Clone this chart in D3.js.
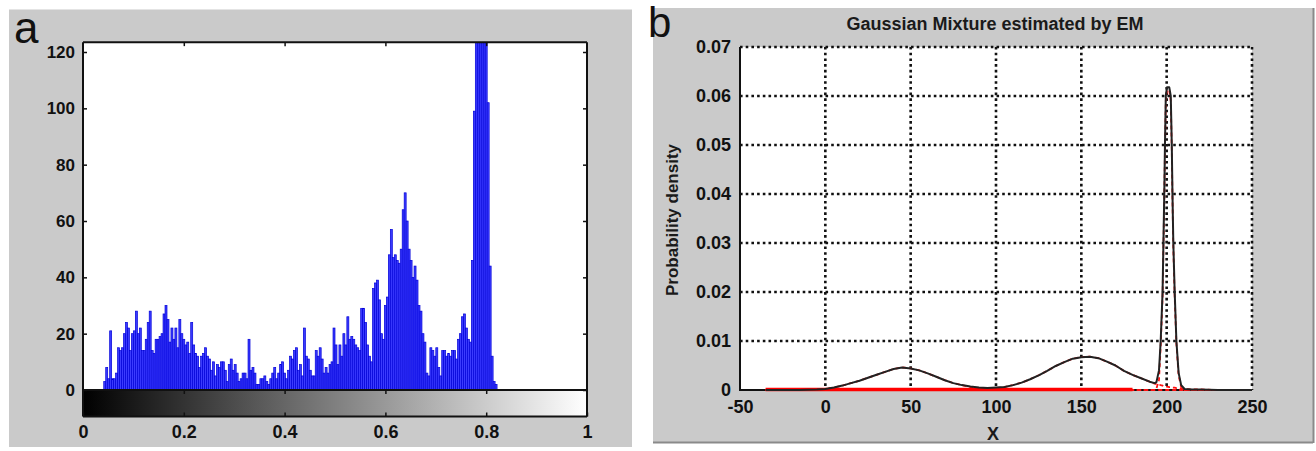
<!DOCTYPE html>
<html><head><meta charset="utf-8">
<script src="https://cdn.jsdelivr.net/npm/d3@7"></script>
<style>
html,body{margin:0;padding:0;background:#fff;}
svg{display:block;}
text{font-family:"Liberation Sans",Arial,sans-serif;}
</style></head>
<body>
<svg id="chart" width="1316" height="451"></svg>
<script>
// ---------- Panel a data: image histogram (256 bins over [0,1]) ----------
const histFirstBin = 11;
const histCounts = [
 3,8,4,21,4,4,6,15,14,15, 20,24,22,14,20,21,28,20,22,14,
 14,18,24,28,14,13,18,18,19,20, 27,30,25,17,22,18,22,15,25,20,
 18,16,17,13,24,16,13,12,8,12, 13,15,12,11,7,10,5,9,8,10,
 10,7,3,9,11,7,9,6,3,4, 6,6,4,18,7,8,6,2,2,4,
 4,5,3,2,4,6,8,4,6,9, 10,6,4,7,12,11,14,15,7,9,
 5,22,12,11,7,5,5,14,12,15, 11,6,8,6,9,10,22,16,9,16,
 12,20,16,26,18,19,18,16,15,14, 29,29,24,16,12,10,36,38,39,32,
 20,18,30,33,48,57,47,48,46,45, 50,64,70,60,50,46,40,44,39,30,
 28,20,17,6,5,15,14,12,15,8, 5,14,14,12,13,12,14,14,11,18,
 20,26,27,22,18,17,46,99,150,200, 230,210,180,140,102,44,12,3,2
];
const histBins = 256;
const aXTicks = [0, 0.2, 0.4, 0.6, 0.8, 1];
const aXTickLabels = ["0", "0.2", "0.4", "0.6", "0.8", "1"];
const aYTicks = [0, 20, 40, 60, 80, 100, 120];
const aYTop = 123.5;

// ---------- Panel b data: Gaussian mixture estimated by EM ----------
const bTitle = "Gaussian Mixture estimated by EM";
const bXLabel = "X";
const bYLabel = "Probability density";
const bX = [-35,-25,-15,-5,0,5,10,15,20,25,30,35,40,45,50,55,60,65,70,75,80,85,90,95,100,
 105,110,115,120,125,130,135,140,145,150,155,160,165,170,175,180,185,190,193,194,195.5,196.5,
 197.6,198.1,198.6,199,199.5,200.2,201.5,202.4,203,203.4,203.9,204.7,205.7,207,208.5,210.5,
 215,220,230,240,250];
const bMixture = [0,0,0,0.0001,0.0002,0.0005,0.0009,0.0014,0.0019,0.0025,0.0031,0.0037,0.0043,0.0046,0.0044,
 0.0040,0.0034,0.0027,0.0020,0.0014,0.0010,0.0007,0.0005,0.0004,0.0005,
 0.0006,0.0010,0.0015,0.0022,0.0030,0.0039,0.0049,0.0057,0.0064,0.0067,0.0068,0.0065,0.0058,0.0050,0.0039,
 0.0031,0.0024,0.0017,0.0014,0.0016,0.004,0.010,
 0.020,0.030,0.040,0.050,0.060,0.0618,0.0618,0.060,0.050,0.040,0.030,0.020,0.010,0.0035,0.001,0.0002,
 0.0001,0.0001,0,0,0];
const bComp1 = [0,0,0,0.0001,0.0002,0.0005,0.0009,0.0014,0.0019,0.0025,0.0031,0.0037,0.0043,0.0046,0.0044,
 0.0040,0.0034,0.0027,0.0020,0.0014,0.0010,0.0006,0.0004,0.0002,0.0001,
 0,0,0,0,0,0,0,0,0,0,0,0,0,0,0,
 0,0,0,0,0,0,0,
 0,0,0,0,0,0,0,0,0,0,0,0,0,0,0,0,
 0,0,0,0,0];
const bComp2 = [0,0,0,0,0,0,0,0,0,0,0,0,0,0,0,
 0,0,0,0,0,0,0.0001,0.0001,0.0002,0.0004,
 0.0006,0.0010,0.0015,0.0022,0.0030,0.0039,0.0049,0.0057,0.0064,0.0067,0.0068,0.0065,0.0058,0.0050,0.0039,
 0.0031,0.0024,0.0017,0.0013,0.0012,0.0011,0.0010,
 0.0009,0.0008,0.0008,0.0008,0.0007,0.0007,0.0006,0.0006,0.0005,0.0005,0.0005,0.0005,0.0004,0.0004,0.0003,0.0002,
 0.0001,0.0001,0,0,0];
const bComp3 = [0,0,0,0,0,0,0,0,0,0,0,0,0,0,0,
 0,0,0,0,0,0,0,0,0,0,
 0,0,0,0,0,0,0,0,0,0,0,0,0,0,0,
 0,0,0,0,0.0003,0.002,0.009,
 0.019,0.029,0.039,0.049,0.059,0.0612,0.0612,0.059,0.049,0.039,0.029,0.019,0.0095,0.003,0.0006,0,
 0,0,0,0,0];
const bDataRange = [-35, 180];
const bXTicks = [-50, 0, 50, 100, 150, 200, 250];
const bYTicks = [0, 0.01, 0.02, 0.03, 0.04, 0.05, 0.06, 0.07];

// ---------- drawing ----------
const svg = d3.select("#chart");
const defs = svg.append("defs");

// ===== Panel a =====
const ga = svg.append("g");
ga.append("rect").attr("x", 9).attr("y", 9).attr("width", 623).attr("height", 438).attr("fill", "#cacaca");
ga.append("line").attr("x1", 9).attr("x2", 632).attr("y1", 9.5).attr("y2", 9.5).attr("stroke", "#e4e4e4").attr("stroke-width", 1);

const xA = d3.scaleLinear().domain([0, 1]).range([83, 587]);
const yA = d3.scaleLinear().domain([0, 120]).range([390, 52]);
const cbBottom = 416.5;

ga.append("rect").attr("x", xA(0)).attr("y", yA(aYTop)).attr("width", xA(1) - xA(0)).attr("height", yA(0) - yA(aYTop)).attr("fill", "#fff");

const grad = defs.append("linearGradient").attr("id", "cb").attr("x1", "0").attr("x2", "1").attr("y1", "0").attr("y2", "0");
grad.append("stop").attr("offset", "0").attr("stop-color", "#000");
grad.append("stop").attr("offset", "1").attr("stop-color", "#fff");
ga.append("rect").attr("x", xA(0)).attr("y", yA(0)).attr("width", xA(1) - xA(0)).attr("height", cbBottom - yA(0)).attr("fill", "url(#cb)");

defs.append("clipPath").attr("id", "clipA").append("rect")
  .attr("x", xA(0)).attr("y", yA(aYTop)).attr("width", xA(1) - xA(0)).attr("height", yA(0) - yA(aYTop));

const histData = histCounts.map((v, k) => ({bin: histFirstBin + k, v}));
ga.append("g").attr("clip-path", "url(#clipA)").selectAll("rect").data(histData).join("rect")
  .attr("x", d => xA((d.bin - 0.5) / (histBins - 1)))
  .attr("width", d => xA((d.bin + 0.5) / (histBins - 1)) - xA((d.bin - 0.5) / (histBins - 1)))
  .attr("y", d => yA(Math.min(d.v, aYTop + 2)))
  .attr("height", d => yA(0) - yA(Math.min(d.v, aYTop + 2)))
  .attr("fill", "#3b3bff").attr("stroke", "#0000d8").attr("stroke-width", 0.7);

// frame
const frameA = ga.append("g").attr("stroke", "#111").attr("stroke-width", 2).attr("fill", "none");
frameA.append("line").attr("x1", xA(0)).attr("x2", xA(0)).attr("y1", yA(aYTop)).attr("y2", cbBottom);
frameA.append("line").attr("x1", xA(1)).attr("x2", xA(1)).attr("y1", yA(aYTop)).attr("y2", cbBottom);
frameA.append("line").attr("x1", xA(0)).attr("x2", xA(1)).attr("y1", yA(aYTop)).attr("y2", yA(aYTop));
frameA.append("line").attr("x1", xA(0)).attr("x2", xA(1)).attr("y1", yA(0)).attr("y2", yA(0));
frameA.append("line").attr("x1", xA(0)).attr("x2", xA(1)).attr("y1", cbBottom).attr("y2", cbBottom);

function styleAxis(g, size) {
  g.select(".domain").remove();
  g.selectAll(".tick line").attr("stroke", "#111").attr("stroke-width", 1.5);
  g.selectAll(".tick text").attr("fill", "#111").attr("font-size", size).attr("font-weight", "bold")
    .attr("font-family", "'Liberation Sans', Arial, sans-serif");
}
ga.append("g").attr("transform", `translate(${xA(0)},0)`)
  .call(d3.axisLeft(yA).tickValues(aYTicks).tickFormat(d3.format("d")).tickSizeInner(-4).tickSizeOuter(0).tickPadding(8))
  .call(g => styleAxis(g, 17));
ga.append("g").attr("transform", `translate(${xA(1)},0)`)
  .call(d3.axisRight(yA).tickValues(aYTicks).tickFormat("").tickSizeInner(-4).tickSizeOuter(0))
  .call(g => styleAxis(g, 17));
ga.append("g").attr("transform", `translate(0,${cbBottom})`)
  .call(d3.axisBottom(xA).tickValues(aXTicks).tickFormat((d, i) => aXTickLabels[i]).tickSizeInner(-4).tickSizeOuter(0).tickPadding(9))
  .call(g => styleAxis(g, 18));
ga.append("g").attr("transform", `translate(0,${yA(aYTop)})`)
  .call(d3.axisTop(xA).tickValues(aXTicks.slice(1, -1)).tickFormat("").tickSizeInner(-4).tickSizeOuter(0))
  .call(g => styleAxis(g, 18));
ga.append("g").attr("transform", `translate(0,${yA(0)})`)
  .call(d3.axisTop(xA).tickValues(aXTicks.slice(1, -1)).tickFormat("").tickSizeInner(-4).tickSizeOuter(0))
  .call(g => styleAxis(g, 18));

ga.append("text").attr("x", 14).attr("y", 43).attr("font-size", 44)
  .attr("font-family", "'Open Sans', 'Noto Sans', sans-serif").attr("fill", "#111").text("a");

// ===== Panel b =====
const gb = svg.append("g");
gb.append("rect").attr("x", 653).attr("y", 8).attr("width", 660).attr("height", 434).attr("fill", "#cacaca");
gb.append("line").attr("x1", 653).attr("x2", 1313).attr("y1", 442.5).attr("y2", 442.5).attr("stroke", "#8a8a8a").attr("stroke-width", 2);
gb.append("line").attr("x1", 1313.5).attr("x2", 1313.5).attr("y1", 8).attr("y2", 443).attr("stroke", "#8a8a8a").attr("stroke-width", 2);

const xB = d3.scaleLinear().domain([-50, 250]).range([740, 1252]);
const yB = d3.scaleLinear().domain([0, 0.07]).range([390, 47]);

gb.append("rect").attr("x", xB(-50)).attr("y", yB(0.07)).attr("width", xB(250) - xB(-50)).attr("height", yB(0) - yB(0.07)).attr("fill", "#fff");

// grid
const grid = gb.append("g").attr("stroke", "#111").attr("stroke-width", 2.6).attr("stroke-dasharray", "2.6,3.1");
grid.selectAll("line.h").data(bYTicks.slice(1)).join("line").attr("class", "h")
  .attr("x1", xB(-50)).attr("x2", xB(250)).attr("y1", d => yB(d)).attr("y2", d => yB(d));
grid.selectAll("line.v").data(bXTicks.slice(1)).join("line").attr("class", "v")
  .attr("x1", d => xB(d)).attr("x2", d => xB(d)).attr("y1", yB(0.07)).attr("y2", yB(0));

// axes lines
gb.append("line").attr("x1", xB(-50)).attr("x2", xB(-50)).attr("y1", yB(0.07)).attr("y2", yB(0) + 1).attr("stroke", "#111").attr("stroke-width", 2);
gb.append("line").attr("x1", xB(-50)).attr("x2", xB(250)).attr("y1", yB(0)).attr("y2", yB(0)).attr("stroke", "#111").attr("stroke-width", 2.2);

const lineB = (ys) => d3.line().x((d, i) => xB(bX[i])).y(d => yB(d))(ys);
// components (red dashed)
[bComp1, bComp2, bComp3].forEach(c => {
  gb.append("path").attr("d", lineB(c)).attr("fill", "none").attr("stroke", "#ff1010")
    .attr("stroke-width", 1.8).attr("stroke-dasharray", "4,3");
});
// data range (red solid at zero)
gb.append("line").attr("x1", xB(bDataRange[0])).attr("x2", xB(bDataRange[1]))
  .attr("y1", yB(0) - 0.5).attr("y2", yB(0) - 0.5).attr("stroke", "#ff0000").attr("stroke-width", 3.5);
// mixture (black)
gb.append("path").attr("d", lineB(bMixture)).attr("fill", "none").attr("stroke", "#222")
  .attr("stroke-width", 2).attr("stroke-linejoin", "round");

gb.append("g").attr("transform", `translate(${xB(-50)},0)`)
  .call(d3.axisLeft(yB).tickValues(bYTicks).tickFormat(d => d === 0 ? "0" : d.toFixed(2)).tickSizeInner(0).tickSizeOuter(0).tickPadding(9))
  .call(g => styleAxis(g, 18));
gb.append("g").attr("transform", `translate(0,${yB(0)})`)
  .call(d3.axisBottom(xB).tickValues(bXTicks).tickFormat(d => String(d)).tickSizeInner(0).tickSizeOuter(0).tickPadding(10))
  .call(g => styleAxis(g, 18));

gb.append("text").attr("x", 995).attr("y", 30).attr("text-anchor", "middle").attr("font-size", 18)
  .attr("font-weight", "bold").attr("fill", "#1a1a1a").text(bTitle);
gb.append("text").attr("x", 993).attr("y", 440).attr("text-anchor", "middle").attr("font-size", 18)
  .attr("font-weight", "bold").attr("fill", "#1a1a1a").text(bXLabel);
gb.append("text").attr("transform", "translate(678,220) rotate(-90)").attr("text-anchor", "middle").attr("font-size", 17)
  .attr("font-weight", "bold").attr("fill", "#1a1a1a").text(bYLabel);

gb.append("text").attr("x", 648).attr("y", 37).attr("font-size", 42)
  .attr("font-family", "'Open Sans', 'Noto Sans', sans-serif").attr("fill", "#111").text("b");
</script>
</body></html>
